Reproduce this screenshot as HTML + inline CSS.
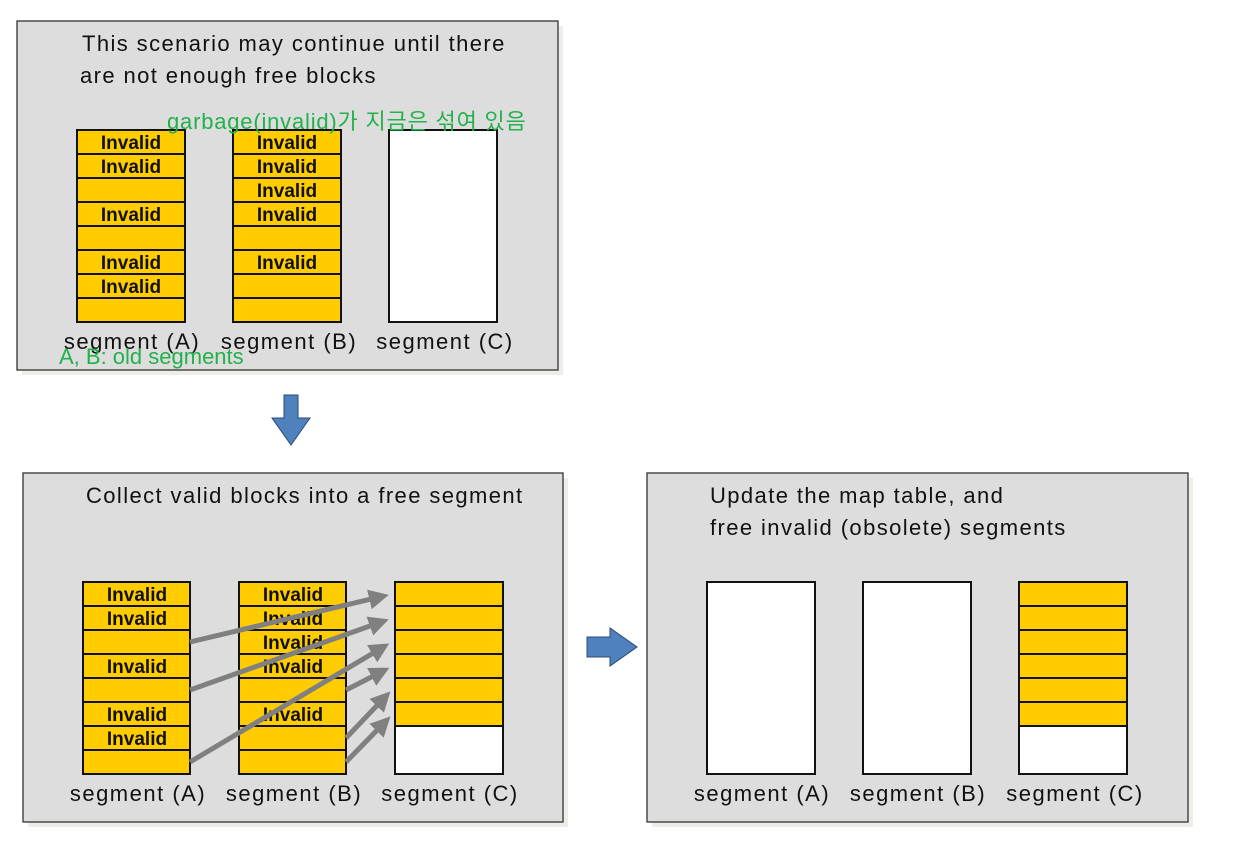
<!DOCTYPE html>
<html><head><meta charset="utf-8"><style>
html,body{margin:0;padding:0;background:#fff;}
svg text{font-family:"Liberation Sans","Noto Sans CJK KR",sans-serif;}
</style></head><body>
<svg width="1244" height="846" viewBox="0 0 1244 846" xmlns="http://www.w3.org/2000/svg">
<defs>
<marker id="ah" markerWidth="4" markerHeight="4" refX="3" refY="2" orient="auto" markerUnits="strokeWidth"><path d="M0,0 L4,2 L0,4 z" fill="#808080"/></marker>
</defs>
<rect x="22" y="26" width="541" height="349" fill="#eeeee8"/>
<rect x="17" y="21" width="541" height="349" fill="#dddddd" stroke="#333" stroke-width="1.3"/>
<rect x="28" y="478" width="540" height="349" fill="#eeeee8"/>
<rect x="23" y="473" width="540" height="349" fill="#dddddd" stroke="#333" stroke-width="1.3"/>
<rect x="652" y="478" width="541" height="349" fill="#eeeee8"/>
<rect x="647" y="473" width="541" height="349" fill="#dddddd" stroke="#333" stroke-width="1.3"/>

<g font-size="22" fill="#111" letter-spacing="1.4">
<text x="82" y="51">This scenario may continue until there</text>
<text x="80" y="83">are not enough free blocks</text>
<text x="86" y="503">Collect valid blocks into a free segment</text>
<text x="710" y="503">Update the map table, and</text>
<text x="710" y="535">free invalid (obsolete) segments</text>
</g>

<g stroke="#111" stroke-width="2" fill="#ffcc00">
<rect x="77" y="130" width="108" height="24"/><rect x="77" y="154" width="108" height="24"/><rect x="77" y="178" width="108" height="24"/><rect x="77" y="202" width="108" height="24"/><rect x="77" y="226" width="108" height="24"/><rect x="77" y="250" width="108" height="24"/><rect x="77" y="274" width="108" height="24"/><rect x="77" y="298" width="108" height="24"/>
<rect x="233" y="130" width="108" height="24"/><rect x="233" y="154" width="108" height="24"/><rect x="233" y="178" width="108" height="24"/><rect x="233" y="202" width="108" height="24"/><rect x="233" y="226" width="108" height="24"/><rect x="233" y="250" width="108" height="24"/><rect x="233" y="274" width="108" height="24"/><rect x="233" y="298" width="108" height="24"/>
<rect x="389" y="130" width="108" height="192" fill="#fff"/>
<rect x="83" y="582" width="107" height="24"/><rect x="83" y="606" width="107" height="24"/><rect x="83" y="630" width="107" height="24"/><rect x="83" y="654" width="107" height="24"/><rect x="83" y="678" width="107" height="24"/><rect x="83" y="702" width="107" height="24"/><rect x="83" y="726" width="107" height="24"/><rect x="83" y="750" width="107" height="24"/>
<rect x="239" y="582" width="107" height="24"/><rect x="239" y="606" width="107" height="24"/><rect x="239" y="630" width="107" height="24"/><rect x="239" y="654" width="107" height="24"/><rect x="239" y="678" width="107" height="24"/><rect x="239" y="702" width="107" height="24"/><rect x="239" y="726" width="107" height="24"/><rect x="239" y="750" width="107" height="24"/>
<rect x="395" y="582" width="108" height="24"/><rect x="395" y="606" width="108" height="24"/><rect x="395" y="630" width="108" height="24"/><rect x="395" y="654" width="108" height="24"/><rect x="395" y="678" width="108" height="24"/><rect x="395" y="702" width="108" height="24"/><rect x="395" y="726" width="108" height="48" fill="#fff"/>
<rect x="707" y="582" width="108" height="192" fill="#fff"/>
<rect x="863" y="582" width="108" height="192" fill="#fff"/>
<rect x="1019" y="582" width="108" height="24"/><rect x="1019" y="606" width="108" height="24"/><rect x="1019" y="630" width="108" height="24"/><rect x="1019" y="654" width="108" height="24"/><rect x="1019" y="678" width="108" height="24"/><rect x="1019" y="702" width="108" height="24"/><rect x="1019" y="726" width="108" height="48" fill="#fff"/>
</g>

<g font-size="19" font-weight="bold" fill="#111" text-anchor="middle">
<text x="131" y="149">Invalid</text><text x="131" y="173">Invalid</text><text x="131" y="221">Invalid</text><text x="131" y="269">Invalid</text><text x="131" y="293">Invalid</text>
<text x="287" y="149">Invalid</text><text x="287" y="173">Invalid</text><text x="287" y="197">Invalid</text><text x="287" y="221">Invalid</text><text x="287" y="269">Invalid</text>
<text x="137" y="601">Invalid</text><text x="137" y="625">Invalid</text><text x="137" y="673">Invalid</text><text x="137" y="721">Invalid</text><text x="137" y="745">Invalid</text>
<text x="293" y="601">Invalid</text><text x="293" y="625">Invalid</text><text x="293" y="649">Invalid</text><text x="293" y="673">Invalid</text><text x="293" y="721">Invalid</text>
</g>

<g stroke="#808080" stroke-width="5" marker-end="url(#ah)">
<line x1="190" y1="642" x2="384" y2="596"/>
<line x1="190" y1="690" x2="384" y2="621"/>
<line x1="190" y1="762" x2="385" y2="646"/>
<line x1="346" y1="690" x2="385" y2="670"/>
<line x1="346" y1="738" x2="387" y2="695"/>
<line x1="346" y1="762" x2="387" y2="720"/>
</g>

<g font-size="22" fill="#111" text-anchor="middle" letter-spacing="1.5">
<text x="132" y="349">segment (A)</text><text x="289" y="349">segment (B)</text><text x="445" y="349">segment (C)</text>
<text x="138" y="801">segment (A)</text><text x="294" y="801">segment (B)</text><text x="450" y="801">segment (C)</text>
<text x="762" y="801">segment (A)</text><text x="918" y="801">segment (B)</text><text x="1075" y="801">segment (C)</text>
</g>

<g font-size="22" fill="#22b14c">
<text x="167" y="129" letter-spacing="0.8">garbage(invalid)가 지금은 섞여 있음</text>
<text x="59" y="364">A, B: old segments</text>
</g>

<path d="M284,395 H298 V418 H310 L291,445 L272,418 H284 Z" fill="#4f81bd" stroke="#2a4a78" stroke-width="1"/>
<path d="M587,637 H610 V628 L637,647 L610,666 V657 H587 Z" fill="#4f81bd" stroke="#2a4a78" stroke-width="1"/>
</svg>
</body></html>
